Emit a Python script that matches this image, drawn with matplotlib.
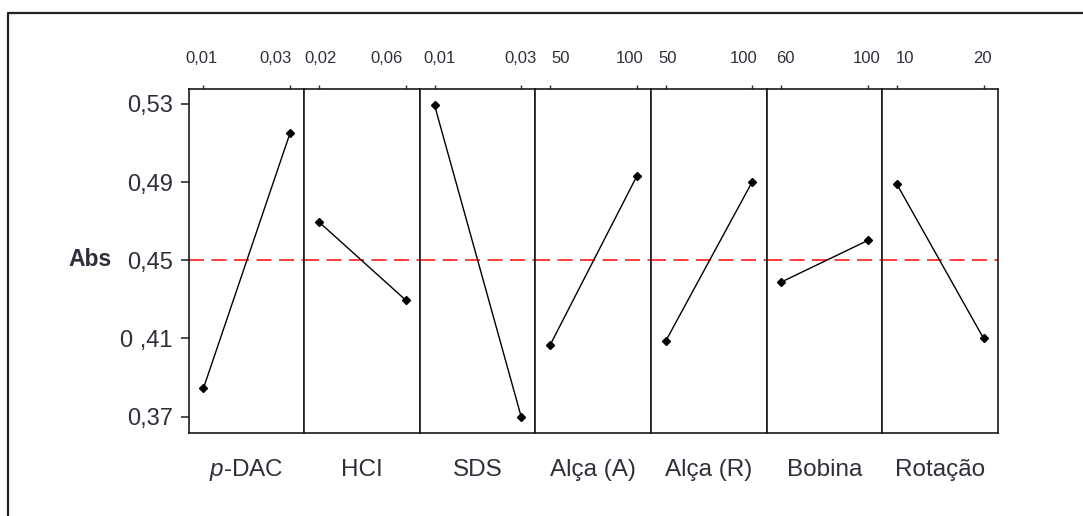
import matplotlib
matplotlib.use("Agg")
import matplotlib.pyplot as plt
from matplotlib.lines import Line2D
from matplotlib.transforms import ScaledTranslation

TEXT = '#2f2f3a'

plt.rcParams.update({
    'font.family': ['Liberation Sans', 'DejaVu Sans'],
    'mathtext.fontset': 'custom',
    'mathtext.rm': 'Liberation Sans',
    'mathtext.it': 'Liberation Sans:italic',
    'text.color': TEXT,
    'xtick.color': TEXT,
    'ytick.color': TEXT,
})

# main effects: mean Abs at low / high level of each factor
factors = [r'$\mathit{p}$-DAC', 'HCI', 'SDS', 'Alça (A)', 'Alça (R)', 'Bobina', 'Rotação']
levels = [('0,01', '0,03'), ('0,02', '0,06'), ('0,01', '0,03'), ('50', '100'),
          ('50', '100'), ('60', '100'), ('10', '20')]
abs_low = [0.3845, 0.4696, 0.5293, 0.4067, 0.4087, 0.4389, 0.4889]
abs_high = [0.5150, 0.4297, 0.3700, 0.4930, 0.4903, 0.4602, 0.4101]
grand_mean = 0.45
y_ticks = [0.37, 0.41, 0.45, 0.49, 0.53]
y_ticklabels = ['0,37', '0 ,41', '0,45', '0,49', '0,53']

# small horizontal nudges (px) of the top level labels, as in the original
nudge_low = [-2, 2, 5, 10, 2, 4, 8]
nudge_high = [-14, -19, -1, -7, -9, -1, -1]

W, H = 1083, 516
fig = plt.figure(figsize=(W / 100, H / 100), dpi=100)
fig.patch.set_facecolor('white')

# outer frame (only top and left edges are visible in the crop)
fig.add_artist(Line2D([8 / W, 8 / W, 1.0], [0.0, 1 - 13 / H, 1 - 13 / H],
                      transform=fig.transFigure, color='#222222', lw=1.6))

left_px, right_px, top_px, bot_px = 188.7, 997.8, 89.3, 432.7
pw = (right_px - left_px) / len(factors)
ax_b = (H - bot_px) / H
ax_h = (bot_px - top_px) / H

for i, name in enumerate(factors):
    ax = fig.add_axes([(left_px + i * pw) / W, ax_b, pw / W, ax_h])
    ax.plot([0, 1], [abs_low[i], abs_high[i]], color='black', lw=1.0,
            marker='D', ms=4.5, mfc='black', mec='black', zorder=3)
    ax.axhline(grand_mean, color='#ff1a1a', lw=1.2, dashes=(9, 4.5), zorder=2)
    ax.set_xlim(-0.17, 1.165)
    ax.set_ylim(0.3618, 0.5375)
    for sp in ax.spines.values():
        sp.set_linewidth(1.2)
        sp.set_color('#1a1a1a')
    ax.xaxis.tick_top()
    ax.set_xticks([0, 1])
    ax.set_xticklabels(levels[i], fontsize=12)
    ax.tick_params(axis='x', direction='out', length=3, width=1, pad=13.5)
    for lab, dx in zip(ax.get_xticklabels(), (nudge_low[i], nudge_high[i])):
        lab.set_transform(lab.get_transform() +
                          ScaledTranslation(dx / 100, 0, fig.dpi_scale_trans))
    if i == 0:
        ax.set_yticks(y_ticks)
        ax.set_yticklabels(y_ticklabels, fontsize=17)
        ax.tick_params(axis='y', direction='out', length=6, width=1.2, pad=5.5)
    else:
        ax.set_yticks([])
    ax.text(0.5, -0.109, name, transform=ax.transAxes, ha='center', va='center',
            fontsize=17.5)

fig.text(112 / W, 1 - 259 / H, 'Abs', ha='right', va='center',
         fontsize=16.5, fontweight='bold')

fig.savefig('out.png', dpi=100)
